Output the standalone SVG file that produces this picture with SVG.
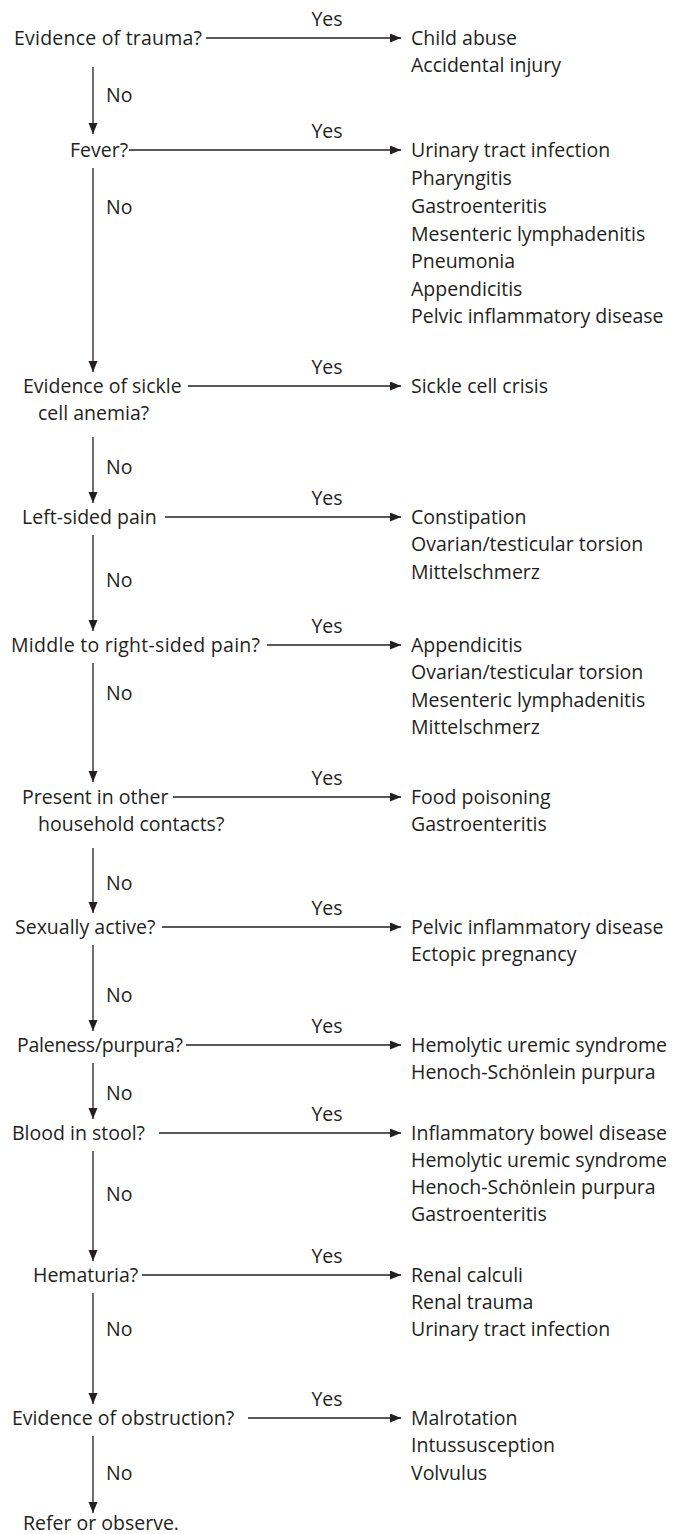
<svg xmlns="http://www.w3.org/2000/svg" width="677" height="1534" viewBox="0 0 677 1534">
<style>
text{font-family:"Open Sans","Noto Sans","Liberation Sans",sans-serif;font-size:19.5px;fill:#231f20}
.c line{stroke:#231f20;stroke-width:1.3;fill:none}
.v{marker-end:url(#ah)}
.yes{text-anchor:middle}
</style>
<defs>
<marker id="ah" markerUnits="userSpaceOnUse" markerWidth="12" markerHeight="10" refX="11" refY="4.5" orient="auto">
<path d="M0,0 L11,4.5 L0,9 z" fill="#231f20"/>
</marker>
</defs>
<rect width="677" height="1534" fill="#fff"/>
<g class="c" id="connectors">
<line class="v" x1="206" y1="38" x2="401" y2="38"/>
<line class="v" x1="93" y1="67" x2="93" y2="134"/>
<line class="v" x1="129" y1="150" x2="401" y2="150"/>
<line class="v" x1="93" y1="168" x2="93" y2="372"/>
<line class="v" x1="188" y1="386" x2="401" y2="386"/>
<line class="v" x1="93" y1="437" x2="93" y2="503"/>
<line class="v" x1="165" y1="517" x2="401" y2="517"/>
<line class="v" x1="93" y1="535" x2="93" y2="631"/>
<line class="v" x1="267" y1="645" x2="401" y2="645"/>
<line class="v" x1="93" y1="663" x2="93" y2="782"/>
<line class="v" x1="173" y1="797" x2="401" y2="797"/>
<line class="v" x1="93" y1="848" x2="93" y2="913"/>
<line class="v" x1="162" y1="927" x2="401" y2="927"/>
<line class="v" x1="93" y1="945" x2="93" y2="1031"/>
<line class="v" x1="186" y1="1045" x2="401" y2="1045"/>
<line class="v" x1="93" y1="1063" x2="93" y2="1119"/>
<line class="v" x1="159" y1="1133" x2="401" y2="1133"/>
<line class="v" x1="93" y1="1151" x2="93" y2="1261"/>
<line class="v" x1="142" y1="1275" x2="401" y2="1275"/>
<line class="v" x1="93" y1="1293" x2="93" y2="1404"/>
<line class="v" x1="248" y1="1418" x2="401" y2="1418"/>
<line class="v" x1="93" y1="1436" x2="93" y2="1513"/>
</g>
<g id="labels">
<text class="yes" x="327" y="26">Yes</text>
<text class="yes" x="327" y="138">Yes</text>
<text class="yes" x="327" y="374">Yes</text>
<text class="yes" x="327" y="505">Yes</text>
<text class="yes" x="327" y="633">Yes</text>
<text class="yes" x="327" y="785">Yes</text>
<text class="yes" x="327" y="915">Yes</text>
<text class="yes" x="327" y="1033">Yes</text>
<text class="yes" x="327" y="1121">Yes</text>
<text class="yes" x="327" y="1263">Yes</text>
<text class="yes" x="327" y="1406">Yes</text>
<text x="106" y="102">No</text>
<text x="106" y="214">No</text>
<text x="106" y="474">No</text>
<text x="106" y="587">No</text>
<text x="106" y="700">No</text>
<text x="106" y="890">No</text>
<text x="106" y="1002">No</text>
<text x="106" y="1100">No</text>
<text x="106" y="1201">No</text>
<text x="106" y="1336">No</text>
<text x="106" y="1480">No</text>
</g>
<g id="q1"><text x="14" y="45" textLength="188">Evidence of trauma?</text></g>
<g id="r1"><text x="411" y="45">Child abuse</text><text x="411" y="72">Accidental injury</text></g>
<g id="q2"><text x="70" y="157">Fever?</text></g>
<g id="r2">
<text x="411" y="157">Urinary tract infection</text>
<text x="411" y="185">Pharyngitis</text>
<text x="411" y="213">Gastroenteritis</text>
<text x="411" y="241">Mesenteric lymphadenitis</text>
<text x="411" y="268">Pneumonia</text>
<text x="411" y="296">Appendicitis</text>
<text x="411" y="323">Pelvic inflammatory disease</text>
</g>
<g id="q3"><text x="23" y="393">Evidence of sickle</text><text x="38" y="420">cell anemia?</text></g>
<g id="r3"><text x="411" y="393">Sickle cell crisis</text></g>
<g id="q4"><text x="22" y="524">Left-sided pain</text></g>
<g id="r4">
<text x="411" y="524">Constipation</text>
<text x="411" y="551">Ovarian/testicular torsion</text>
<text x="411" y="579">Mittelschmerz</text>
</g>
<g id="q5"><text x="11" y="652" textLength="249">Middle to right-sided pain?</text></g>
<g id="r5">
<text x="411" y="652">Appendicitis</text>
<text x="411" y="679">Ovarian/testicular torsion</text>
<text x="411" y="707">Mesenteric lymphadenitis</text>
<text x="411" y="734">Mittelschmerz</text>
</g>
<g id="q6"><text x="22" y="804">Present in other</text><text x="38" y="831">household contacts?</text></g>
<g id="r6"><text x="411" y="804">Food poisoning</text><text x="411" y="831">Gastroenteritis</text></g>
<g id="q7"><text x="15" y="934">Sexually active?</text></g>
<g id="r7"><text x="411" y="934">Pelvic inflammatory disease</text><text x="411" y="961">Ectopic pregnancy</text></g>
<g id="q8"><text x="17" y="1052" textLength="166">Paleness/purpura?</text></g>
<g id="r8"><text x="411" y="1052">Hemolytic uremic syndrome</text><text x="411" y="1079">Henoch-Schönlein purpura</text></g>
<g id="q9"><text x="12" y="1140">Blood in stool?</text></g>
<g id="r9">
<text x="411" y="1140">Inflammatory bowel disease</text>
<text x="411" y="1167">Hemolytic uremic syndrome</text>
<text x="411" y="1194">Henoch-Schönlein purpura</text>
<text x="411" y="1221">Gastroenteritis</text>
</g>
<g id="q10"><text x="33" y="1282">Hematuria?</text></g>
<g id="r10">
<text x="411" y="1282">Renal calculi</text>
<text x="411" y="1309">Renal trauma</text>
<text x="411" y="1336">Urinary tract infection</text>
</g>
<g id="q11"><text x="12" y="1425">Evidence of obstruction?</text></g>
<g id="r11">
<text x="411" y="1425">Malrotation</text>
<text x="411" y="1452">Intussusception</text>
<text x="411" y="1480">Volvulus</text>
</g>
<g id="end"><text x="23" y="1530">Refer or observe.</text></g>
</svg>
